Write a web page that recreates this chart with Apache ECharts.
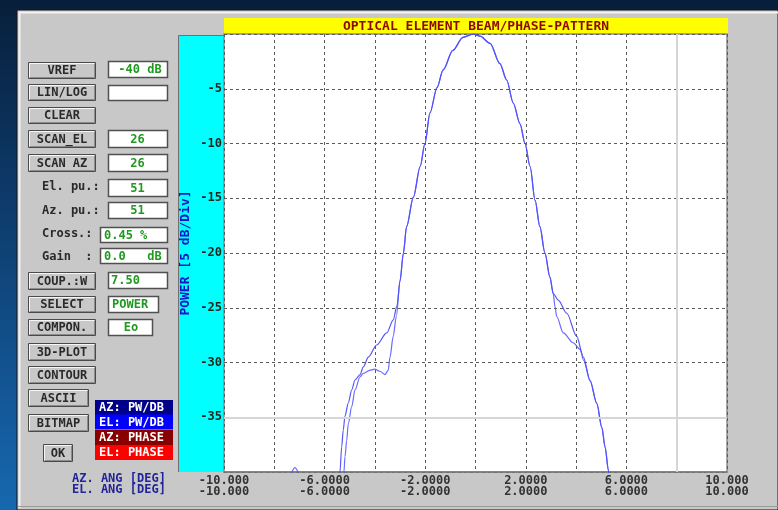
<!DOCTYPE html>
<html>
<head>
<meta charset="utf-8">
<script src="https://cdn.jsdelivr.net/npm/echarts@6/dist/echarts.min.js"></script>
<style>
html,body{margin:0;padding:0;background:#0a2545;}
#c{width:778px;height:510px;}
</style>
</head>
<body>
<div id="c"></div>
<script>
// ---- data ----
const titleText = 'OPTICAL ELEMENT BEAM/PHASE-PATTERN';
const yAxisName = 'POWER [5 dB/Div]';
const xTickValues = [-10, -6, -2, 2, 6, 10];
const xTickLabels = ['-10.000', '-6.0000', '-2.0000', '2.0000', '6.0000', '10.000'];
const yTickValues = [-5, -10, -15, -20, -25, -30, -35];
const xAxisTitles = ['AZ. ANG [DEG]', 'EL. ANG [DEG]'];

// AZ cut (power, dB) : [angle deg, dB]
const azPower = [
  [-5.42,-40.6],[-5.39,-40.0],[-5.32,-37.7],[-5.26,-36.2],[-5.19,-34.9],[-5.06,-33.7],
  [-4.92,-32.5],[-4.79,-31.6],[-4.59,-31.1],[-4.46,-30.4],[-4.26,-29.5],[-3.93,-28.4],
  [-3.53,-27.3],[-3.27,-26.1],[-3.12,-24.8],[-3.0,-22.5],[-2.87,-20.0],[-2.74,-17.6],
  [-2.47,-14.9],[-2.2,-12.1],[-2.01,-10.0],[-1.81,-7.2],[-1.53,-4.9],[-1.29,-3.3],
  [-0.9,-1.5],[-0.5,-0.3],[-0.08,0.0],[0.18,-0.2],[0.58,-0.85],[0.97,-2.7],[1.24,-4.2],
  [1.5,-6.3],[1.77,-8.2],[1.97,-10.0],[2.17,-12.1],[2.37,-15.2],[2.56,-17.6],[2.76,-20.0],
  [2.96,-22.2],[3.09,-23.7],[3.29,-24.3],[3.63,-25.5],[4.02,-27.6],[4.29,-29.5],
  [4.55,-31.6],[4.82,-33.7],[5.02,-35.9],[5.15,-37.7],[5.28,-39.8],[5.32,-40.6]
];
// EL cut (power, dB)
const elPower = [
  [-7.4,-40.6],[-7.18,-39.6],[-6.96,-40.6],[-6.5,'-'],
  [-5.26,-40.6],[-5.23,-40.0],[-5.19,-38.6],[-5.12,-37.1],[-5.06,-35.6],[-4.92,-34.0],
  [-4.79,-32.5],[-4.59,-31.3],[-4.46,-31.0],[-4.19,-30.7],[-4.0,-30.6],[-3.8,-30.8],
  [-3.6,-31.1],[-3.47,-30.7],[-3.4,-29.5],[-3.27,-27.6],[-3.15,-25.8],[-3.0,-22.6],
  [-2.87,-20.1],[-2.74,-17.6],[-2.47,-14.9],[-2.2,-12.1],[-2.01,-10.0],[-1.81,-7.2],
  [-1.53,-4.9],[-1.29,-3.3],[-0.9,-1.5],[-0.5,-0.3],[-0.08,0.0],[0.18,-0.2],[0.58,-0.85],
  [0.97,-2.7],[1.24,-4.2],[1.5,-6.3],[1.77,-8.2],[1.97,-10.0],[2.17,-12.1],[2.37,-15.2],
  [2.56,-17.6],[2.76,-20.0],[2.96,-22.2],[3.09,-23.7],[3.16,-24.9],[3.23,-25.8],
  [3.49,-27.3],[3.89,-28.2],[4.16,-28.8],[4.3,-29.8],[4.56,-31.7],[4.83,-33.8],
  [5.03,-36.0],[5.16,-37.8],[5.29,-39.9],[5.33,-40.6]
];

// control panel contents
const buttonLabels = ['VREF','LIN/LOG','CLEAR','SCAN_EL','SCAN AZ','COUP.:W','SELECT','COMPON.','3D-PLOT','CONTOUR','ASCII','BITMAP','OK'];
const fieldTexts = ['-40 dB','','26','26','51','51','0.45 %','0.0   dB','7.50','POWER','Eo'];
const fieldLabels = ['El. pu.:','Az. pu.:','Cross.:','Gain  :'];
const legendLabels = ['AZ: PW/DB','EL: PW/DB','AZ: PHASE','EL: PHASE'];

// ---- layout / drawing ----
const MONO = '"DejaVu Sans Mono", monospace';
const F12B = 'bold 12px ' + MONO;
const els = [];

function txt(t, x, y, fill, font, align) {
  return {type:'text', z:30, style:{text:t, x:x, y:y, fill:fill, font:font,
    align:align||'left', textAlign:align||'left', verticalAlign:'middle', textVerticalAlign:'middle'}};
}
function button(x, y, w, h, label) {
  els.push({type:'rect', z:10, shape:{x:x+0.5, y:y+0.5, width:w, height:h}, style:{fill:'#c8c8c8', stroke:'#4a4a4a', lineWidth:1}});
  els.push({type:'polyline', z:11, shape:{points:[[x+1.5,y+h-1],[x+1.5,y+1.5],[x+w-1,y+1.5]]}, style:{stroke:'#f6f6f6', lineWidth:1, fill:null}});
  els.push({type:'polyline', z:11, shape:{points:[[x+2,y+h-0.5],[x+w-0.5,y+h-0.5],[x+w-0.5,y+2]]}, style:{stroke:'#8c8c8c', lineWidth:1, fill:null}});
  els.push(txt(label, x + w/2 + 0.5, y + h/2 + 1, '#2a2a2a', F12B, 'center'));
}
function field(x, y, w, h, t, align, tx) {
  els.push({type:'rect', z:10, shape:{x:x+0.5, y:y+0.5, width:w, height:h}, style:{fill:'#ffffff', stroke:'#505050', lineWidth:1.5}});
  const a = align || 'center';
  const px = tx !== undefined ? tx : (a === 'center' ? x + w/2 : x + 4);
  els.push(txt(t, px, y + h/2 + 1, '#1f9a1f', F12B, a));
}

// background panel
els.push({type:'rect', z:-30, shape:{x:17, y:10, width:761, height:500}, style:{fill:'#c8c8c8', stroke:'#151515', lineWidth:1}});
els.push({type:'polyline', z:-29, shape:{points:[[19.5,508],[19.5,12.5],[778,12.5]]}, style:{stroke:'#f2f2f2', lineWidth:2, fill:null}});
els.push({type:'line', z:-29, shape:{x1:18, y1:506.5, x2:778, y2:506.5}, style:{stroke:'#9a9a9a', lineWidth:1}});
// cyan strip, yellow title bar, white plot area
els.push({type:'rect', z:-20, shape:{x:178, y:35, width:46, height:437}, style:{fill:'#00ffff'}});
els.push({type:'polyline', z:-19, shape:{points:[[178.5,472],[178.5,35.5],[224,35.5]]}, style:{stroke:'#707070', lineWidth:1, fill:null}});
els.push({type:'rect', z:-20, shape:{x:224, y:18, width:504, height:16}, style:{fill:'#ffff00'}});
els.push({type:'rect', z:-20, shape:{x:224, y:34, width:503, height:438}, style:{fill:'#ffffff', stroke:'#8a8a8a', lineWidth:1.5}});

// buttons
const btnGeom = [
  [28,62,67,16],[28,84,67,16],[28,107,67,16],[28,130,67,17],[28,154,67,17],
  [28,272,67,17],[28,296,67,16],[28,319,67,16],[28,343,67,17],[28,366,67,17],
  [28,389,60,17],[28,414,60,17],[43,444,29,17]
];
btnGeom.forEach((g, i) => button(g[0], g[1], g[2], g[3], buttonLabels[i]));

// fields
const fieldGeom = [
  [108,61,59,16,'center',140],[108,85,59,15],[108,130,59,17],[108,154,59,17],
  [108,179,59,17],[108,202,59,16],[100,227,67,15,'left',104],[100,248,67,15,'left',104],
  [108,272,59,16,'left',111],[108,296,50,16,'left',112],[108,319,44,16,'center',131]
];
fieldGeom.forEach((g, i) => field(g[0], g[1], g[2], g[3], fieldTexts[i], g[4], g[5]));

// field labels
const labelY = [187, 211, 234, 257];
fieldLabels.forEach((t, i) => els.push(txt(t, 42, labelY[i], '#2a2a2a', F12B, 'left')));

// legend boxes
const legendFill = ['#000088', '#0000ff', '#880000', '#ff0000'];
const legendY = [400, 414.5, 430, 445];
legendLabels.forEach((t, i) => {
  els.push({type:'rect', z:10, shape:{x:95, y:legendY[i], width:78, height:15}, style:{fill:legendFill[i]}});
  els.push(txt(t, 99, legendY[i] + 8, '#ffffff', F12B, 'left'));
});

// angle axis titles
els.push(txt(xAxisTitles[0], 72, 479, '#23239a', F12B, 'left'));
els.push(txt(xAxisTitles[1], 72, 490, '#23239a', F12B, 'left'));

const chart = echarts.init(document.getElementById('c'), null, {renderer:'canvas'});
chart.setOption({
  animation: false,
  backgroundColor: {type:'linear', x:0, y:0, x2:0, y2:1, colorStops:[
    {offset:0, color:'#081f3b'}, {offset:0.4, color:'#0d3b6b'}, {offset:1, color:'#1768b0'}]},
  title: {
    text: titleText, left: 476, top: 20, padding: 0, textAlign: 'center',
    textStyle: {color:'#8b0a00', fontFamily: MONO, fontSize: 13, fontWeight: 'bold', lineHeight: 13}
  },
  grid: {left: 224, right: 51, top: 34, bottom: 38, containLabel: false, outerBoundsMode: 'none'},
  xAxis: {
    type: 'value', min: -10, max: 10, interval: 2,
    axisLine: {show: true, onZero: false, lineStyle: {color:'#7a7a7a', width: 1.5}},
    axisTick: {show: false},
    splitLine: {show: true, lineStyle: {color:'#5a5a5a', type:[3,3], width: 1}},
    axisLabel: {
      margin: 3, color:'#333333', fontFamily: MONO, fontSize: 12, fontWeight: 'bold', lineHeight: 11,
      showMinLabel: true, showMaxLabel: true,
      formatter: v => { const i = xTickValues.indexOf(v); return i < 0 ? '' : xTickLabels[i] + '\n' + xTickLabels[i]; }
    }
  },
  yAxis: {
    type: 'value', min: -40, max: 0, interval: 5,
    name: yAxisName, nameLocation: 'middle', nameRotate: 90, nameGap: 32, nameMoveOverlap: false,
    nameTextStyle: {color:'#1515c8', fontFamily: MONO, fontSize: 13, fontWeight: 'bold'},
    axisLine: {show: false}, axisTick: {show: false},
    splitLine: {show: true, lineStyle: {color:'#5a5a5a', type:[3,3], width: 1}},
    axisLabel: {
      margin: 2, color:'#1c2a1c', fontFamily: MONO, fontSize: 12, fontWeight: 'bold',
      formatter: v => yTickValues.indexOf(v) < 0 ? '' : String(v)
    }
  },
  graphic: {elements: els},
  series: [
    {
      type: 'line', name: 'grid-light', data: [], z: 1, silent: true,
      markLine: {silent: true, symbol: ['none','none'], label: {show: false}, animation: false,
        lineStyle: {color:'#d6d6d6', type:'solid', width: 2},
        data: [{yAxis: -35}, {xAxis: 8}]}
    },
    {
      type: 'line', name: 'AZ: PW/DB', data: azPower, showSymbol: false, symbol: 'none',
      smooth: 0.3, smoothMonotone: 'x',
      clip: true, z: 3, lineStyle: {color:'#3a3af2', width: 1.2, opacity: 0.85}
    },
    {
      type: 'line', name: 'EL: PW/DB', data: elPower, showSymbol: false, symbol: 'none',
      smooth: 0.3, smoothMonotone: 'x',
      clip: true, connectNulls: false, z: 3, lineStyle: {color:'#5050ff', width: 1.2, opacity: 0.85}
    }
  ]
});
</script>
</body>
</html>
